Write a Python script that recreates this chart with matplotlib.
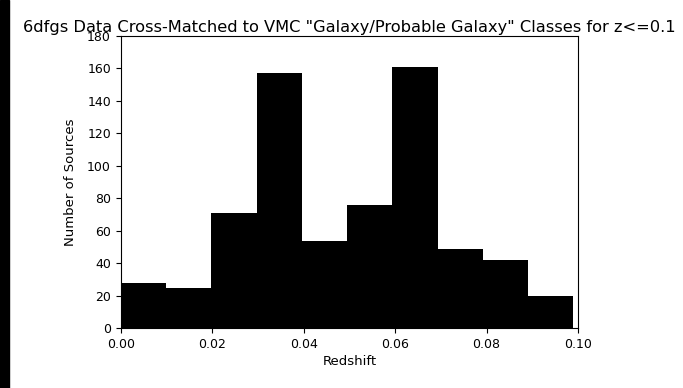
import numpy as np
import matplotlib
matplotlib.use("Agg")
import matplotlib.pyplot as plt
from matplotlib.patches import Rectangle

z_min = 0.0
z_max = 0.099
nb_classes = 10
comptes = [28, 25, 71, 157, 54, 76, 161, 49, 42, 20]

titre = '6dfgs Data Cross-Matched to VMC "Galaxy/Probable Galaxy" Classes for z<=0.1'

bords = np.linspace(z_min, z_max, nb_classes + 1)
centres = 0.5 * (bords[:-1] + bords[1:])

fig = plt.figure(figsize=(6.83, 3.88), dpi=100)
ax = fig.add_axes([0.1767, 0.1535, 0.6696, 0.7545])

ax.hist(centres, bins=bords, weights=comptes, color='black')
ax.set_xlim(0, 0.1)
ax.set_ylim(0, 180)
ax.set_xticks([0.0, 0.02, 0.04, 0.06, 0.08, 0.10])
ax.set_yticks(range(0, 181, 20))
ax.tick_params(labelsize=9)
ax.set_xlabel('Redshift', fontsize=9.5, labelpad=3)
ax.set_ylabel('Number of Sources', fontsize=9.5, labelpad=7)
ax.set_title(titre, fontsize=11.7, pad=3)

# bande noire a gauche de la capture
fig.patches.append(Rectangle((0, 0), 9 / 683, 1, transform=fig.transFigure,
                             color='black', zorder=0))

fig.savefig('out.png', dpi=100)
